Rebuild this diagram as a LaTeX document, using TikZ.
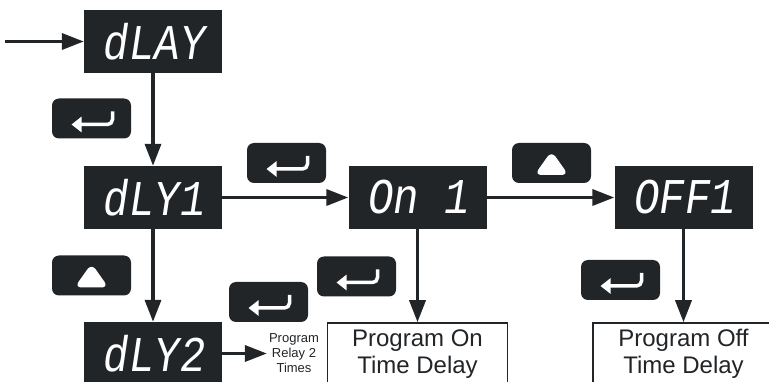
\documentclass[tikz,border=0pt]{standalone}
\usepackage{fontspec}
\setmainfont{Liberation Sans}
\newfontfamily\segfont[FakeSlant=0.15,FakeStretch=0.85]{Liberation Mono}
\usetikzlibrary{arrows.meta,calc}
\definecolor{dark}{RGB}{34,37,40}
\begin{document}
\begin{tikzpicture}[x=1pt,y=-1pt,
  disp/.style={fill=dark, minimum width=138pt, minimum height=63pt, inner sep=0pt,
    text=white, font=\segfont\fontsize{50}{50}\selectfont},
  key/.style={fill=dark, rounded corners=7pt, minimum width=79pt, minimum height=40pt, inner sep=0pt},
  enterkey/.style={key, path picture={
    \coordinate (kc) at (path picture bounding box.center);
    \draw[white, line width=3.5pt, rounded corners=5pt, -{Triangle[length=10pt,width=15pt]}]
      ($(kc)+(21pt,7pt)$) -- ($(kc)+(21pt,-6pt)$) -- ($(kc)+(-20pt,-6pt)$);
  }},
  upkey/.style={key, path picture={
    \coordinate (kc) at (path picture bounding box.center);
    \fill[white] ($(kc)+(-17pt,-12pt)$) -- ($(kc)+(17pt,-12pt)$) -- ($(kc)+(0pt,12pt)$) -- cycle;
  }},
  flow/.style={draw=dark, line width=3.5pt, -{Triangle[length=22pt,width=16pt]}},
  result/.style={draw=dark, line width=1.5pt, fill=white, minimum width=180pt, minimum height=62pt,
    inner sep=0pt, align=center, text=dark, font=\fontsize{24}{27}\selectfont},
  note/.style={align=center, text=dark, inner sep=2pt, font=\fontsize{13}{15}\selectfont}]

\useasboundingbox (0,0) rectangle (769,382);

% displays
\node[disp] (dlay) at (153,41.5) {dLAY};
\node[disp] (dly1) at (153,197.5) {dLY1};
\node[disp] (dly2) at (153,353.5) {dLY2};
\node[disp] (on1)  at (417.5,197.5) {On 1};
\node[disp] (off1) at (683.5,197.5) {OFF1};

% result boxes
\node[result] (pon)  at (417.5,354) {Program On\\Time Delay};
\node[result, minimum width=181pt] (poff) at (683.5,354) {Program Off\\Time Delay};
\node[note] (prt) at (294,353.5) {Program\\Relay 2\\Times};

% keys
\node[enterkey] (k1) at (91.5,118.5) {};
\node[upkey]    (k2) at (91.5,275.5) {};
\node[enterkey] (k3) at (286.5,163) {};
\node[upkey]    (k4) at (551.5,163) {};
\node[enterkey] (k5) at (268.5,302) {};
\node[enterkey] (k6) at (356.5,276.5) {};
\node[enterkey] (k7) at (620.5,280) {};

% connectors
\coordinate (start) at (5,41.5);
\draw[flow] (start) -- (dlay);
\draw[flow] (dlay) -- (dly1);
\draw[flow] (dly1) -- (dly2);
\draw[flow] (dly1) -- (on1);
\draw[flow] (on1) -- (off1);
\draw[flow] (on1) -- (pon);
\draw[flow] (off1) -- (poff);
\draw[flow] (dly2) -- (prt.west);
\end{tikzpicture}
\end{document}
